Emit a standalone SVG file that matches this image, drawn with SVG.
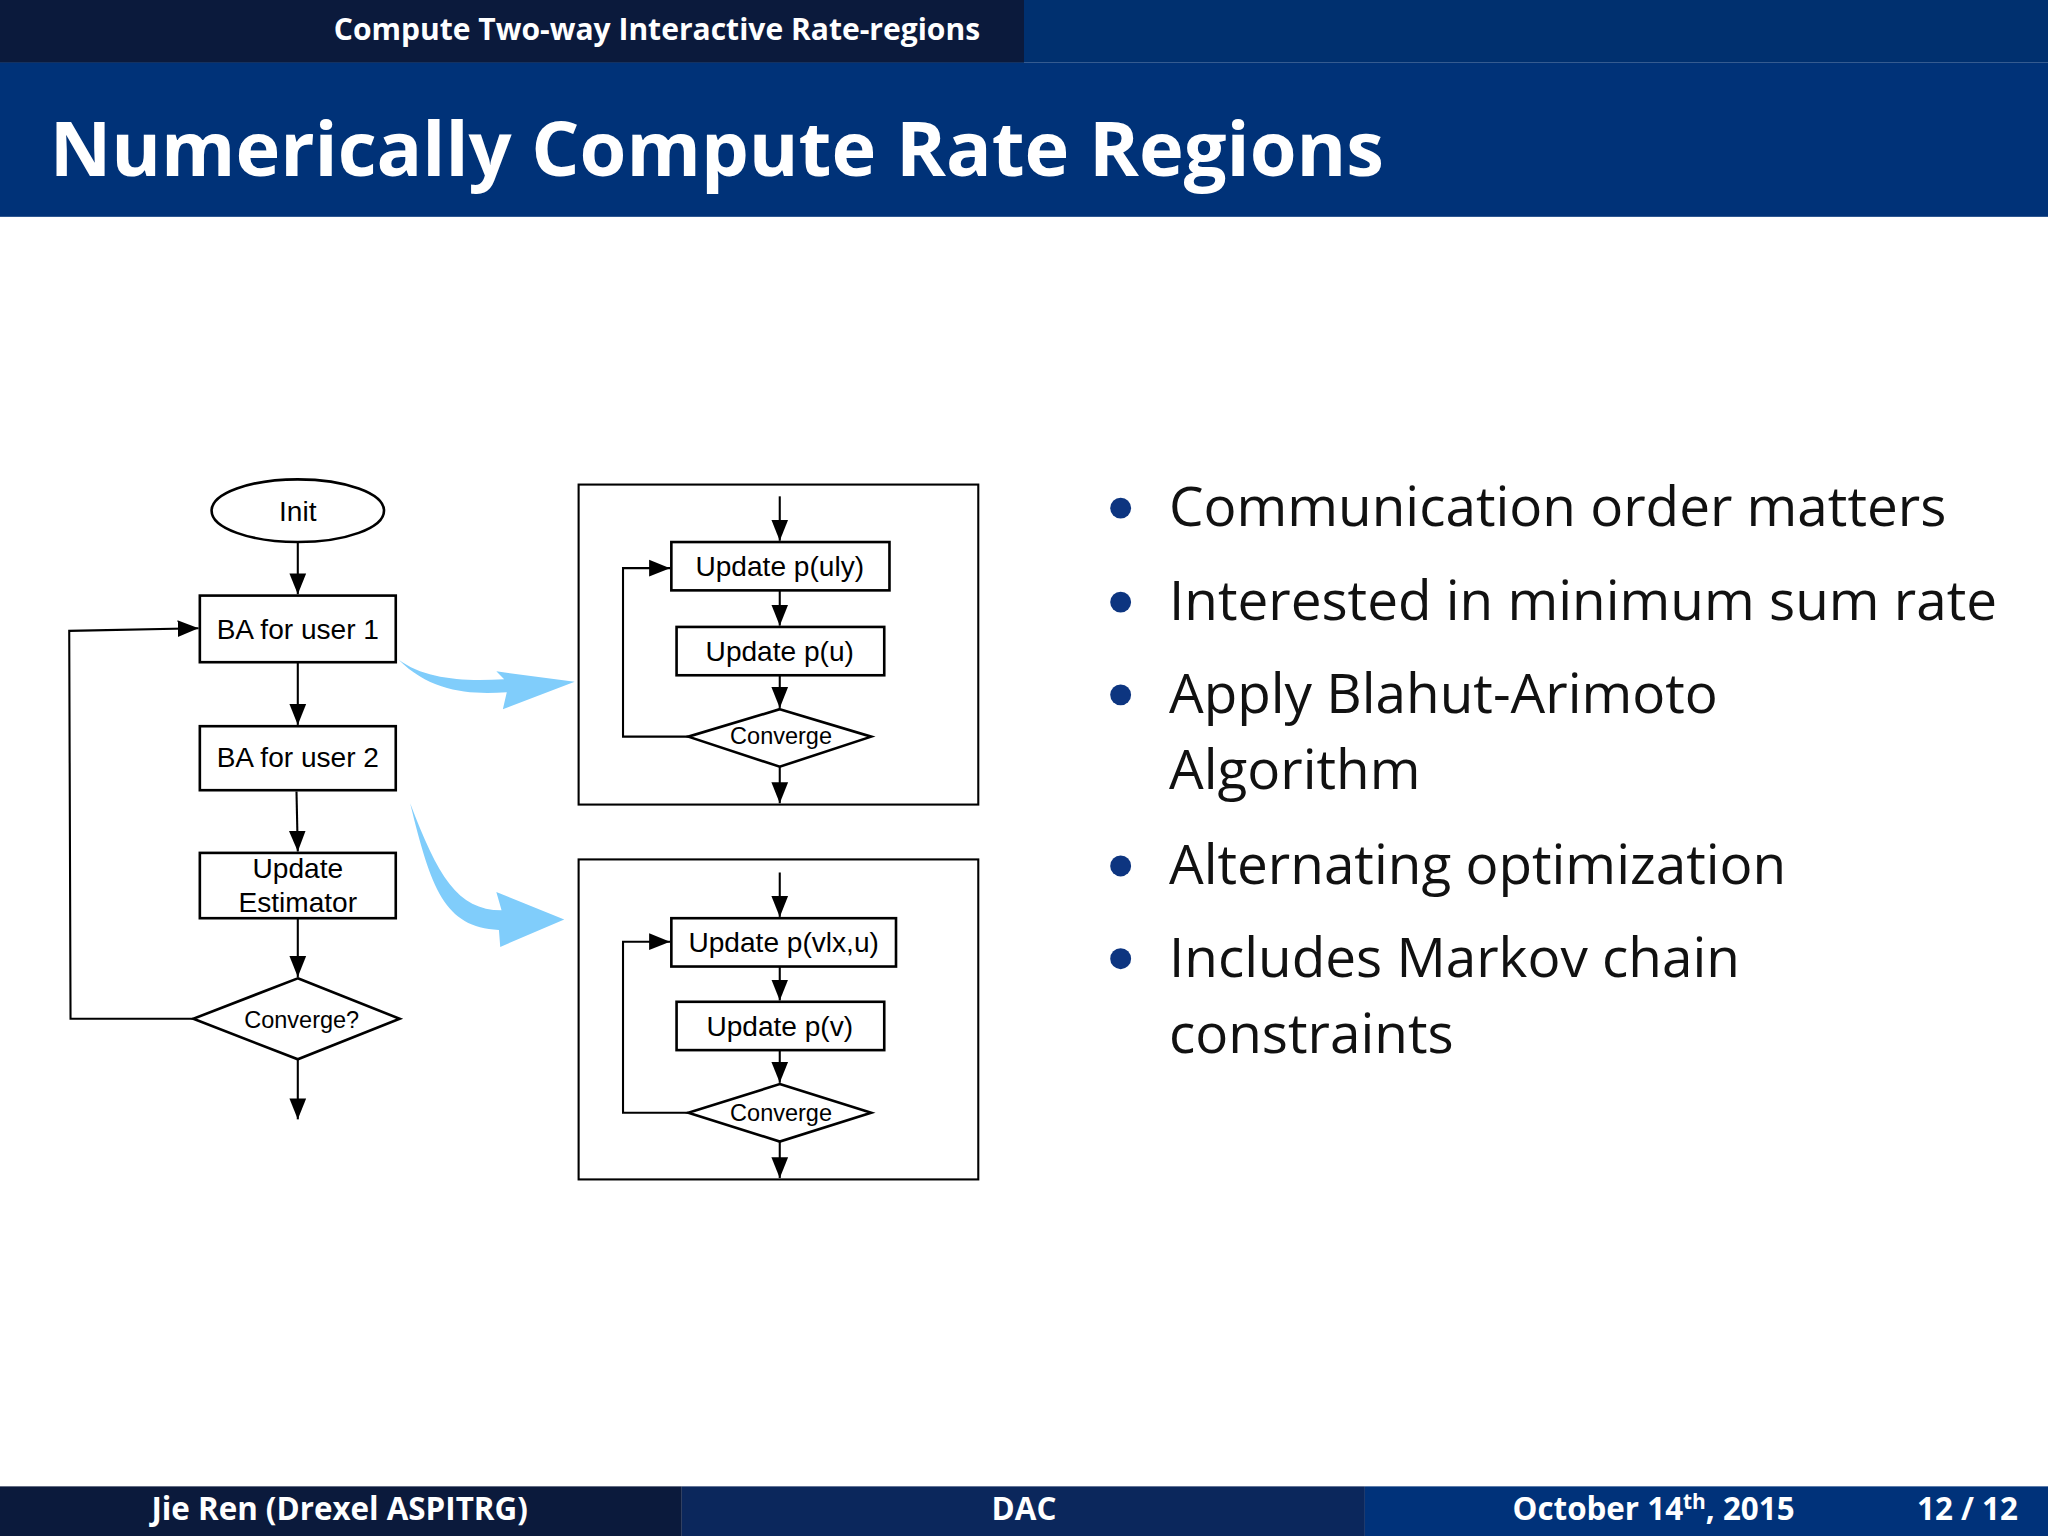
<svg xmlns="http://www.w3.org/2000/svg" width="2048" height="1536" viewBox="0 0 2048 1536">
<defs>
<style>
.f{font-family:"Liberation Sans",Arial,sans-serif;font-size:21.5px;fill:#000;text-anchor:middle}
.s{font-size:18px}
.n{fill:#fff;stroke:#000;stroke-width:2}
.c{fill:none;stroke:#000;stroke-width:1.6}
.h{font-family:"Open Sans","DejaVu Sans",sans-serif;fill:#fff;font-weight:bold}
.b{font-family:"Open Sans","DejaVu Sans",sans-serif;font-size:42px;fill:#111}
</style>
<marker id="m" viewBox="0 0 10 10" refX="10" refY="5" markerWidth="16" markerHeight="16" markerUnits="userSpaceOnUse" orient="auto"><path d="M0,1L10,5L0,9z" fill="#000"/></marker>
</defs>
<rect width="2048" height="1536" fill="#fff"/>
<g transform="scale(1.306122)">
<rect x="0" y="0" width="1568" height="48" fill="#00306f"/>
<rect x="0" y="0" width="784" height="48" fill="#0b1a3c"/>
<rect x="0" y="48" width="1568" height="118" fill="#003278"/>
<text class="h" x="503" y="31" font-size="23" text-anchor="middle">Compute Two-way Interactive Rate-regions</text>
<text class="h" x="38" y="135" font-size="58">Numerically Compute Rate Regions</text>
<rect x="0" y="1138" width="522" height="38" fill="#0b1a3c"/>
<rect x="522" y="1138" width="523" height="38" fill="#0b275c"/>
<rect x="1045" y="1138" width="523" height="38" fill="#00327a"/>
<text class="h" x="260" y="1164" font-size="24" text-anchor="middle">Jie Ren  (Drexel ASPITRG)</text>
<text class="h" x="784" y="1164" font-size="24" text-anchor="middle">DAC</text>
<text class="h" x="1158" y="1164" font-size="24">October 14<tspan font-size="16" dy="-9">th</tspan><tspan dy="9">, 2015</tspan></text>
<text class="h" x="1545" y="1164" font-size="24" text-anchor="end">12 / 12</text>

<g id="bullets">
<g fill="#0d3580"><circle cx="858" cy="389" r="8"/><circle cx="858" cy="461" r="8"/><circle cx="858" cy="532" r="8"/><circle cx="858" cy="663" r="8"/><circle cx="858" cy="734" r="8"/></g>
<text class="b" x="895" y="403">Communication order matters</text>
<text class="b" x="895" y="475">Interested in minimum sum rate</text>
<text class="b" x="895" y="546">Apply Blahut-Arimoto</text>
<text class="b" x="895" y="604">Algorithm</text>
<text class="b" x="895" y="677">Alternating optimization</text>
<text class="b" x="895" y="748">Includes Markov chain</text>
<text class="b" x="895" y="806">constraints</text>
</g>

<g id="blue" fill="#80cdfb">
<path d="M305,505 C330,530 360,532 388,530 L385,543 L440,522 L380,514 L386,520 C355,522 325,520 305,505z"/>
<path d="M314,615 C330,680 340,710 382,712 L383,725 L432,704 L380,683 L384,697 C350,697 335,670 314,615z"/>
</g>

<g id="panel1"><rect x="443" y="371" width="306" height="245" class="c" stroke-width="2"/></g>
<g id="panel2"><rect x="443" y="658" width="306" height="245" class="c" stroke-width="2"/></g>

<g id="connectors">
<path class="c" d="M228,415V455" marker-end="url(#m)"/>
<path class="c" d="M228,507V555" marker-end="url(#m)"/>
<path class="c" d="M227,606L228,652" marker-end="url(#m)"/>
<path class="c" d="M228,703V748" marker-end="url(#m)"/>
<path class="c" d="M228,811V857" marker-end="url(#m)"/>
<path class="c" d="M148,780H54L53,483L152,481" marker-end="url(#m)"/>
<path class="c" d="M597,380V414" marker-end="url(#m)"/>
<path class="c" d="M597,452V479" marker-end="url(#m)"/>
<path class="c" d="M597,517V542" marker-end="url(#m)"/>
<path class="c" d="M597,587V615" marker-end="url(#m)"/>
<path class="c" d="M527,564H477V435H513" marker-end="url(#m)"/>
<path class="c" d="M597,668V702" marker-end="url(#m)"/>
<path class="c" d="M597,740V766" marker-end="url(#m)"/>
<path class="c" d="M597,804V829" marker-end="url(#m)"/>
<path class="c" d="M597,874V902" marker-end="url(#m)"/>
<path class="c" d="M527,852H477V721H513" marker-end="url(#m)"/>
</g>

<g id="init"><ellipse cx="228" cy="391" rx="66" ry="24" class="n"/><text class="f" x="228" y="399">Init</text></g>
<g id="ba1"><rect x="153" y="456" width="150" height="51" class="n"/><text class="f" x="228" y="489">BA for user 1</text></g>
<g id="ba2"><rect x="153" y="556" width="150" height="49" class="n"/><text class="f" x="228" y="587">BA for user 2</text></g>
<g id="est"><rect x="153" y="653" width="150" height="50" class="n"/><text class="f" x="228" y="672">Update</text><text class="f" x="228" y="698">Estimator</text></g>
<g id="conv"><path d="M228,749L306,780L228,811L148,780z" class="n"/><text class="f s" x="231" y="787">Converge?</text></g>
<g id="puly"><rect x="514" y="415" width="167" height="37" class="n"/><text class="f" x="597" y="441">Update p(uly)</text></g>
<g id="pu"><rect x="518" y="480" width="159" height="37" class="n"/><text class="f" x="597" y="506">Update p(u)</text></g>
<g id="conv1"><path d="M597,543L667,564L597,587L527,564z" class="n"/><text class="f s" x="598" y="570">Converge</text></g>
<g id="pvxu"><rect x="514" y="703" width="172" height="37" class="n"/><text class="f" x="600" y="729">Update p(vlx,u)</text></g>
<g id="pv"><rect x="518" y="767" width="159" height="37" class="n"/><text class="f" x="597" y="793">Update p(v)</text></g>
<g id="conv2"><path d="M597,830L667,852L597,874L527,852z" class="n"/><text class="f s" x="598" y="858">Converge</text></g>
</g>
</svg>
